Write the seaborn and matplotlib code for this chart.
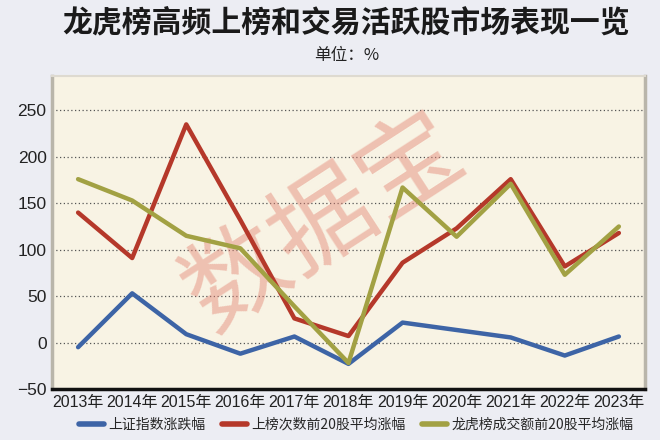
import numpy as np
import pandas as pd
import matplotlib
matplotlib.use("Agg")
import matplotlib.pyplot as plt
import seaborn as sns
from matplotlib.lines import Line2D

years = ["2013年", "2014年", "2015年", "2016年", "2017年", "2018年",
         "2019年", "2020年", "2021年", "2022年", "2023年"]
sse_change = [-5, 53, 9, -12, 6.5, -23, 21.5, 13.5, 5.5, -14, 6.5]
top20_count_avg = [140, 91, 235, 132, 26, 7, 86, 123, 176, 82, 118]
top20_turnover_avg = [176, 153, 115, 101.5, 39, -22, 167, 114, 171, 73, 125]
series_names = ["上证指数涨跌幅", "上榜次数前20股平均涨幅", "龙虎榜成交额前20股平均涨幅"]
series_colors = ["#3d64a6", "#b5382a", "#a2a143"]
y_ticks = [-50, 0, 50, 100, 150, 200, 250]

sns.set_theme(style="white")
plt.rcParams["font.family"] = ["Liberation Sans", "Noto Sans CJK SC", "DejaVu Sans"]

df = pd.DataFrame({
    "year": years * 3,
    "x": list(range(len(years))) * 3,
    "value": sse_change + top20_count_avg + top20_turnover_avg,
    "series": [series_names[0]] * len(years) + [series_names[1]] * len(years)
              + [series_names[2]] * len(years),
})

fig = plt.figure(figsize=(6.6, 4.4), dpi=100)
fig.patch.set_facecolor("#ecedf3")
ax = fig.add_axes([0.079, 0.116, 0.898, 0.711])
ax.set_facecolor("#f8f3e4")

# watermark text
ax.text(0.46, 0.53, "数据宝", transform=ax.transAxes, fontsize=74,
        color="#e38372", alpha=0.45, rotation=33, ha="center", va="center",
        family=["Noto Sans CJK SC"], zorder=1.5)

sns.lineplot(data=df, x="x", y="value", hue="series", palette=series_colors,
             hue_order=series_names, linewidth=3.2, ax=ax, legend=False,
             zorder=3)

ax.set_xlim(-0.48, 10.48)
ax.set_ylim(-50, 287)
ax.set_xticks(range(len(years)))
ax.set_xticklabels(years, fontsize=11.5, color="#222222")
ax.set_yticks(y_ticks)
ax.set_yticklabels([f"{v}".replace("-", "−") for v in y_ticks], fontsize=12.5,
                   color="#222222")
ax.tick_params(axis="both", length=0, pad=4)
ax.set_xlabel("")
ax.set_ylabel("")
for v in y_ticks[1:]:
    ax.axhline(v, color="#555555", linestyle=(0, (1, 2)), linewidth=0.9,
               zorder=1)

for side in ["left", "right"]:
    ax.spines[side].set_color("#b9b5aa")
    ax.spines[side].set_linewidth(2.5)
ax.spines["top"].set_color("#dedad0")
ax.spines["top"].set_linewidth(1.5)
ax.spines["bottom"].set_color("#111111")
ax.spines["bottom"].set_linewidth(2.5)

fig.text(0.525, 0.948, "龙虎榜高频上榜和交易活跃股市场表现一览", ha="center",
         va="center", fontsize=21.5, fontweight="black", color="#1a1a1a",
         family=["Noto Sans CJK SC"])
fig.text(0.525, 0.873, "单位：%", ha="center", va="center", fontsize=12,
         color="#222222", family=["Noto Sans CJK SC"])

handles = [Line2D([0], [0], color=c, linewidth=4) for c in series_colors]
fig.legend(handles, series_names, loc="center", bbox_to_anchor=(0.54, 0.035),
           ncol=3, frameon=False, handlelength=1.8,
           handletextpad=0.3, columnspacing=1.2,
           prop={"family": ["Noto Sans CJK SC"], "size": 10})

fig.savefig("out.png", dpi=100, facecolor=fig.get_facecolor())
